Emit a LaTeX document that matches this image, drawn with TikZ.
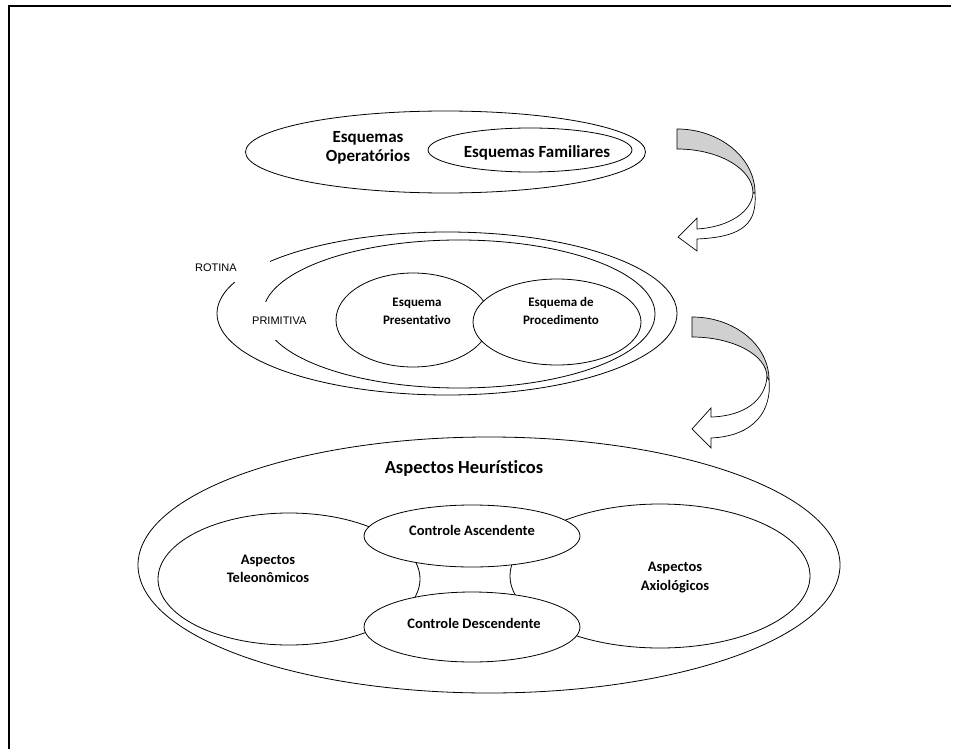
\documentclass[tikz,border=0pt]{standalone}
\usepackage{fontspec}
\setmainfont{Carlito}[Ligatures=NoCommon]
\newfontfamily\plainsans{Liberation Sans}
\usetikzlibrary{shapes.geometric}
\definecolor{bandgray}{RGB}{208,208,208}

\begin{document}
\begin{tikzpicture}[x=1pt,y=-1pt,
  ovalshape/.style={ellipse, draw, line width=0.8pt, fill=white, inner sep=0pt},
  txtbig/.style={font=\bfseries\fontsize{17}{19}\selectfont, align=center, inner sep=0pt},
  txtmid/.style={font=\bfseries\fontsize{13}{18}\selectfont, align=center, inner sep=0pt},
  txtlow/.style={font=\bfseries\fontsize{14.5}{18.5}\selectfont, align=center, inner sep=0pt},
  txttitle/.style={font=\bfseries\fontsize{18.5}{22}\selectfont, inner sep=0pt},
  tagbox/.style={font=\plainsans\fontsize{11}{13}\selectfont, fill=white, inner ysep=0pt,
                 inner xsep=3pt, align=left, anchor=north west},
  frameline/.style={line width=1.3pt},
  bendarrow/.style={line width=0.7pt, line join=miter}
]
\useasboundingbox (0,0) rectangle (963,749);

% page frame (top and left edges)
\coordinate (frTR) at (951,6);
\coordinate (frTL) at (9,6);
\coordinate (frBL) at (9,749);
\draw[frameline] (frTR) -- (frTL) -- (frBL);

% ---- operative schemes ----
\node[ovalshape, minimum width=400pt, minimum height=82pt] (opE) at (445.5,152) {};
\node[ovalshape, minimum width=204pt, minimum height=44pt] (famE) at (530,150) {};
\node[txtbig] (opT) at (368,147.5) {Esquemas\\Operatórios};
\node[txtbig] (famT) at (537,153) {Esquemas Familiares};

% ---- first curved arrow ----
\filldraw[bendarrow, fill=bandgray]
  (677,129) .. controls (720,129) and (755,158) .. (755,193) -- (753,193)
  .. controls (753,169) and (719,149) .. (677,149) -- cycle;
\filldraw[bendarrow, fill=white]
  (753,193) .. controls (752,211) and (730,227) .. (697,229) -- (697,218) -- (678,237)
  -- (697,251) -- (697,239) .. controls (745,237) and (757,222) .. (755,193) -- cycle;

% ---- routine / primitive ----
\node[ovalshape, minimum width=460pt, minimum height=163pt] (rotE) at (447,313.5) {};
\node[ovalshape, minimum width=392pt, minimum height=148pt] (primE) at (459,314) {};
\node[ovalshape, minimum width=154pt, minimum height=94pt] (presE) at (413,320) {};
\node[ovalshape, minimum width=168pt, minimum height=86pt] (procE) at (557,322) {};
\node[txtmid] (presT) at (417,311) {Esquema\\Presentativo};
\node[txtmid] (procT) at (561,311) {Esquema de\\Procedimento};
\node[tagbox, minimum width=78pt, minimum height=28pt, text width=72pt] (rotT) at (192,254) {ROTINA};
\node[tagbox, minimum width=67pt, minimum height=38pt, text width=61pt] (primT) at (249,302) {PRIMITIVA};

% ---- second curved arrow ----
\filldraw[bendarrow, fill=bandgray]
  (692,317) .. controls (734.5,317) and (769,345) .. (769,380) -- (767,377)
  .. controls (767,355) and (733,337) .. (692,337) -- cycle;
\filldraw[bendarrow, fill=white]
  (767,377) .. controls (765,400) and (745,416) .. (711,417) -- (711,408) -- (692,429)
  -- (711,448) -- (711,438) .. controls (755,436) and (772,410) .. (769,380) -- cycle;

% ---- heuristic aspects ----
\node[ovalshape, minimum width=702pt, minimum height=256pt] (heurE) at (489,565) {};
\node[ovalshape, minimum width=262pt, minimum height=132pt] (teleE) at (289,579) {};
\node[ovalshape, minimum width=300pt, minimum height=144pt] (axioE) at (660,576) {};
\node[ovalshape, minimum width=216pt, minimum height=62pt] (ascE) at (472,536) {};
\node[ovalshape, minimum width=216pt, minimum height=70pt] (descE) at (472,627) {};
\node[txttitle] (heurT) at (464,468) {Aspectos Heurísticos};
\node[txtlow] (teleT) at (268,569) {Aspectos\\Teleonômicos};
\node[txtlow] (axioT) at (675,577.5) {Aspectos\\Axiológicos};
\node[txtlow] (ascT) at (472,530) {Controle Ascendente};
\node[txtlow] (descT) at (474,623) {Controle Descendente};
\end{tikzpicture}
\end{document}
